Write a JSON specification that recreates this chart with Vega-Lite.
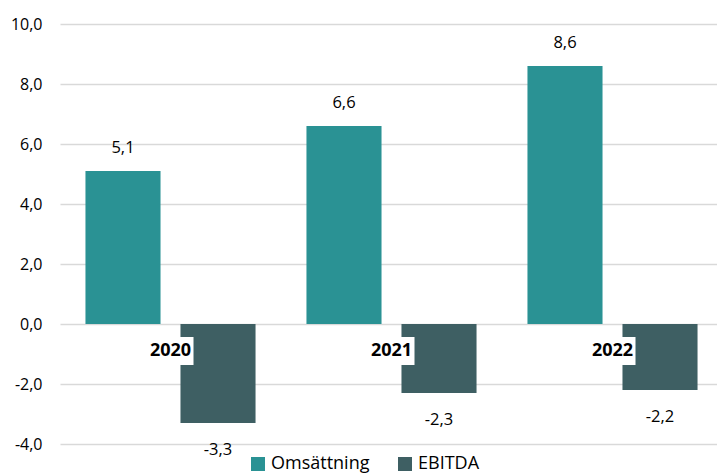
{
  "$schema": "https://vega.github.io/schema/vega-lite/v6.json",
  "width": 663,
  "height": 420,
  "autosize": "none",
  "padding": {"left": 60, "top": 24, "right": 0, "bottom": 31},
  "background": "white",
  "config": {
    "locale": {"number": {"decimal": ",", "thousands": " ", "grouping": [3], "currency": ["", " kr"], "minus": "-"}},
    "view": {"stroke": null},
    "font": "Open Sans"
  },
  "data": {
    "values": [
      {"year": "2020", "series": "Omsättning", "value": 5.1},
      {"year": "2020", "series": "EBITDA", "value": -3.3},
      {"year": "2021", "series": "Omsättning", "value": 6.6},
      {"year": "2021", "series": "EBITDA", "value": -2.3},
      {"year": "2022", "series": "Omsättning", "value": 8.6},
      {"year": "2022", "series": "EBITDA", "value": -2.2}
    ]
  },
  "encoding": {
    "x": {"field": "year", "type": "nominal", "axis": null, "scale": {"paddingInner": 0, "paddingOuter": 0}}
  },
  "layer": [
    {
      "mark": {"type": "bar"},
      "encoding": {
        "xOffset": {"field": "series", "type": "nominal", "sort": ["Omsättning", "EBITDA"], "scale": {"paddingInner": 0.21, "paddingOuter": 0.268}},
        "y": {"field": "value", "type": "quantitative", "scale": {"domain": [-4, 10], "nice": false, "zero": false},
          "axis": {"title": null, "values": [-4, -2, 0, 2, 4, 6, 8, 10], "format": ".1f", "domain": false, "ticks": false, "labelPadding": 18, "labelFontSize": 16, "labelColor": "#000000", "gridColor": "#d9d9d9", "gridWidth": 1.5}},
        "color": {"field": "series", "type": "nominal", "sort": ["Omsättning", "EBITDA"],
          "scale": {"domain": ["Omsättning", "EBITDA"], "range": ["#2A9294", "#3E5F63"]},
          "legend": {"title": null, "orient": "none", "direction": "horizontal", "legendX": 189, "legendY": 431, "symbolType": "square", "symbolSize": 196, "symbolStrokeWidth": 0, "labelFontSize": 18, "labelColor": "#000000", "columnPadding": 26, "labelOffset": 4}}
      }
    },
    {
      "transform": [{"filter": "datum.value >= 0"}],
      "mark": {"type": "text", "dy": -23, "baseline": "middle", "fontSize": 16.5, "color": "#000000"},
      "encoding": {
        "xOffset": {"field": "series", "type": "nominal", "sort": ["Omsättning", "EBITDA"]},
        "y": {"field": "value", "type": "quantitative"},
        "text": {"field": "value", "type": "quantitative", "format": ".1f"}
      }
    },
    {
      "transform": [{"filter": "datum.value < 0"}],
      "mark": {"type": "text", "dy": 27, "baseline": "middle", "fontSize": 16.5, "color": "#000000"},
      "encoding": {
        "xOffset": {"field": "series", "type": "nominal", "sort": ["Omsättning", "EBITDA"]},
        "y": {"field": "value", "type": "quantitative"},
        "text": {"field": "value", "type": "quantitative", "format": ".1f"}
      }
    },
    {
      "transform": [{"filter": "datum.series === 'Omsättning'"}],
      "mark": {"type": "bar", "color": "white", "size": 46},
      "encoding": {
        "y": {"datum": -0.43},
        "y2": {"datum": -1.37}
      }
    },
    {
      "transform": [{"filter": "datum.series === 'Omsättning'"}],
      "mark": {"type": "text", "fontWeight": "bold", "fontSize": 18, "color": "#000000", "baseline": "middle"},
      "encoding": {
        "y": {"datum": -0.9},
        "text": {"field": "year", "type": "nominal"}
      }
    }
  ]
}
